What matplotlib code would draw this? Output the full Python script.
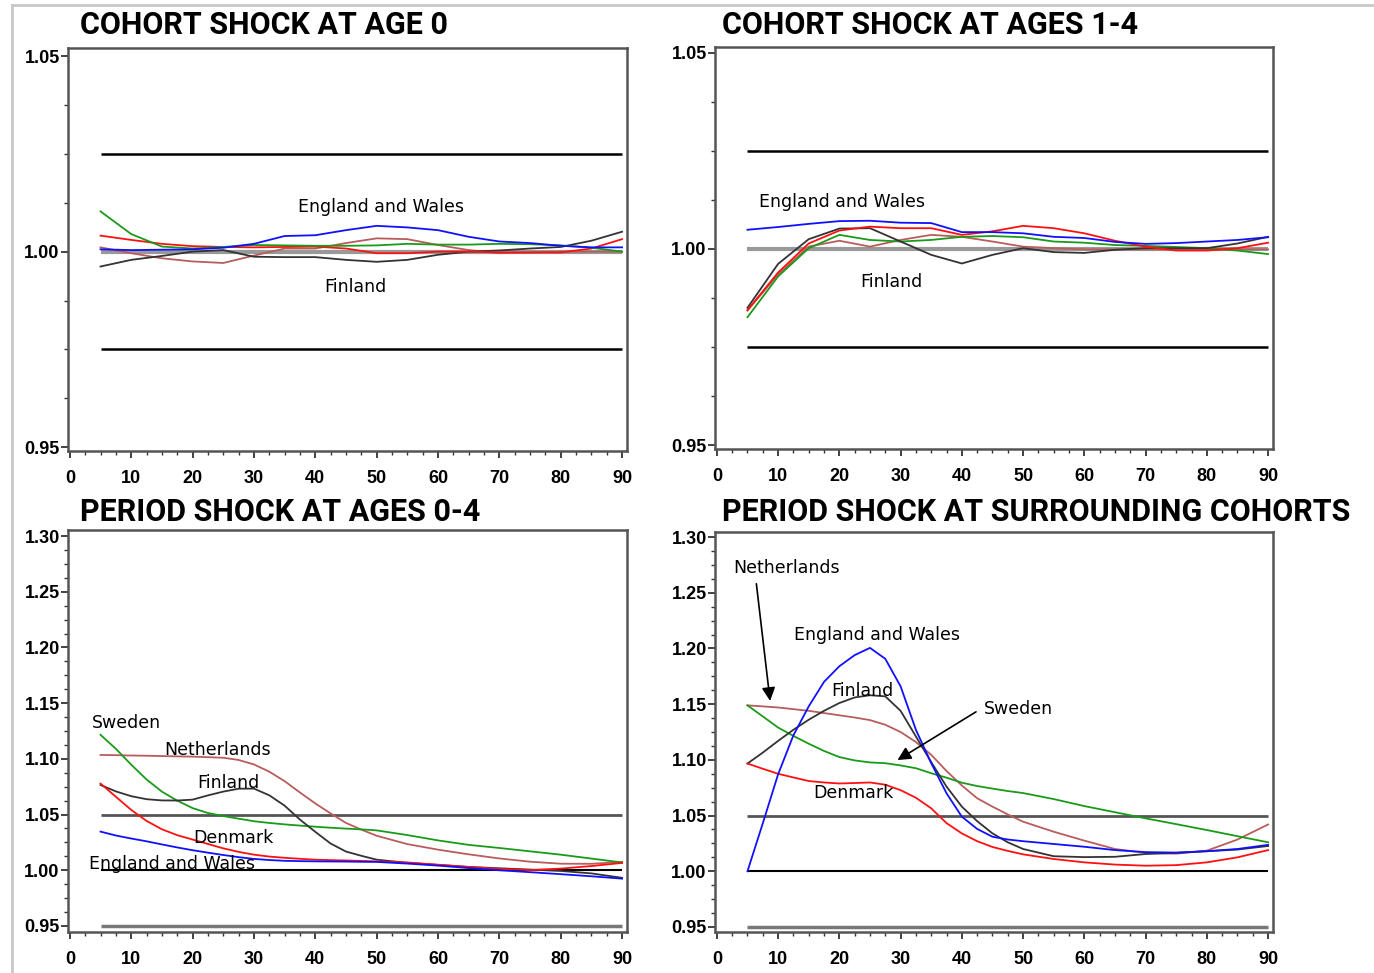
import matplotlib
matplotlib.use("Agg")
import matplotlib.pyplot as plt
from matplotlib.lines import Line2D
from matplotlib.ticker import MultipleLocator, AutoMinorLocator
from matplotlib import font_manager

# ages (x) for the cohort-shock panels
ages = [5, 10, 15, 20, 25, 30, 35, 40, 45, 50, 55, 60, 65, 70, 75, 80, 85, 90]
# finer ages for the period-shock panels
ages_p = [5, 7.5, 10, 12.5, 15, 17.5, 20, 22.5, 25, 27.5, 30, 32.5, 35, 37.5, 40, 42.5,
          45, 47.5, 50, 55, 60, 65, 70, 75, 80, 85, 90]

# ---- cohort shock at age 0 ----
tl_sweden = [1.0103, 1.0045, 1.0013, 1.0008, 1.0012, 1.0017, 1.0016, 1.0015, 1.0015,
             1.0016, 1.0020, 1.0018, 1.0018, 1.0020, 1.0019, 1.0016, 1.0010, 1.0000]
tl_england = [1.0006, 1.0004, 1.0005, 1.0006, 1.0010, 1.0020, 1.0040, 1.0042, 1.0055,
              1.0066, 1.0062, 1.0055, 1.0038, 1.0026, 1.0022, 1.0015, 1.0011, 1.0011]
tl_denmark = [1.0041, 1.0030, 1.0020, 1.0014, 1.0012, 1.0011, 1.0012, 1.0013, 1.0008,
              0.9996, 0.9996, 1.0000, 1.0000, 0.9998, 0.9998, 0.9998, 1.0008, 1.0032]
tl_netherlands = [1.0011, 0.9996, 0.9983, 0.9975, 0.9971, 0.9990, 1.0008, 1.0008, 1.0022,
                  1.0034, 1.0032, 1.0017, 1.0004, 0.9996, 0.9998, 1.0000, 1.0000, 1.0000]
tl_finland = [0.9962, 0.9979, 0.9989, 1.0000, 1.0004, 0.9987, 0.9986, 0.9986, 0.9979,
              0.9974, 0.9979, 0.9992, 1.0000, 1.0003, 1.0008, 1.0012, 1.0028, 1.0051]

# ---- cohort shock at ages 1-4 ----
tr_england = [1.0049, 1.0056, 1.0064, 1.0071, 1.0072, 1.0067, 1.0066, 1.0043, 1.0043,
              1.0040, 1.0031, 1.0028, 1.0018, 1.0013, 1.0015, 1.0019, 1.0023, 1.0030]
tr_denmark = [0.9844, 0.9940, 1.0014, 1.0047, 1.0057, 1.0053, 1.0053, 1.0036, 1.0045,
              1.0059, 1.0053, 1.0040, 1.0021, 1.0006, 0.9996, 0.9996, 1.0002, 1.0016]
tr_finland = [0.9850, 0.9962, 1.0025, 1.0052, 1.0053, 1.0019, 0.9985, 0.9963, 0.9985,
              1.0002, 0.9992, 0.9990, 0.9998, 1.0002, 1.0002, 1.0002, 1.0014, 1.0031]
tr_sweden = [0.9826, 0.9930, 1.0002, 1.0036, 1.0023, 1.0019, 1.0023, 1.0031, 1.0033,
             1.0030, 1.0019, 1.0016, 1.0010, 1.0008, 1.0005, 1.0002, 0.9996, 0.9987]
tr_netherlands = [0.9843, 0.9935, 1.0006, 1.0021, 1.0006, 1.0023, 1.0036, 1.0031, 1.0019,
                  1.0006, 1.0002, 0.9999, 0.9999, 0.9999, 0.9999, 0.9999, 0.9999, 0.9999]

# ---- period shock at ages 0-4 ----
bl_sweden = [1.1216, 1.1090, 1.0948, 1.0815, 1.0706, 1.0625, 1.0558, 1.0514, 1.0487,
             1.0463, 1.0440, 1.0425, 1.0412, 1.0401, 1.0391, 1.0382, 1.0374, 1.0367,
             1.0358, 1.0316, 1.0268, 1.0228, 1.0200, 1.0170, 1.0140, 1.0105, 1.0070]
bl_netherlands = [1.1035, 1.1033, 1.1030, 1.1028, 1.1025, 1.1022, 1.1020, 1.1015, 1.1010,
                  1.0990, 1.0950, 1.0885, 1.0800, 1.0698, 1.0600, 1.0510, 1.0425, 1.0365,
                  1.0310, 1.0235, 1.0185, 1.0143, 1.0106, 1.0077, 1.0059, 1.0058, 1.0075]
bl_finland = [1.0766, 1.0708, 1.0665, 1.0638, 1.0627, 1.0626, 1.0634, 1.0672, 1.0706,
              1.0732, 1.0733, 1.0673, 1.0580, 1.0455, 1.0345, 1.0240, 1.0168, 1.0130,
              1.0095, 1.0067, 1.0048, 1.0030, 1.0018, 1.0006, 0.9994, 0.9972, 0.9932]
bl_denmark = [1.0778, 1.0660, 1.0542, 1.0443, 1.0368, 1.0315, 1.0276, 1.0236, 1.0197,
              1.0165, 1.0140, 1.0123, 1.0112, 1.0103, 1.0095, 1.0091, 1.0088, 1.0084,
              1.0080, 1.0070, 1.0050, 1.0030, 1.0012, 1.0002, 1.0015, 1.0038, 1.0066]
bl_england = [1.0347, 1.0312, 1.0285, 1.0260, 1.0232, 1.0205, 1.0180, 1.0158, 1.0137,
              1.0118, 1.0102, 1.0092, 1.0085, 1.0082, 1.0080, 1.0079, 1.0078, 1.0076,
              1.0075, 1.0060, 1.0042, 1.0020, 1.0000, 0.9983, 0.9965, 0.9946, 0.9925]

# ---- period shock at surrounding cohorts ----
br_england = [1.0000, 1.0430, 1.0870, 1.1220, 1.1480, 1.1700, 1.1840, 1.1940, 1.2005,
              1.1907, 1.1660, 1.1270, 1.0970, 1.0700, 1.0490, 1.0380, 1.0310, 1.0285,
              1.0270, 1.0245, 1.0220, 1.0190, 1.0172, 1.0168, 1.0180, 1.0200, 1.0237]
br_finland = [1.0967, 1.1065, 1.1170, 1.1270, 1.1360, 1.1440, 1.1510, 1.1560, 1.1580,
              1.1570, 1.1440, 1.1210, 1.0980, 1.0760, 1.0580, 1.0450, 1.0340, 1.0260,
              1.0200, 1.0135, 1.0127, 1.0130, 1.0155, 1.0165, 1.0180, 1.0195, 1.0227]
br_netherlands = [1.1489, 1.1480, 1.1470, 1.1455, 1.1440, 1.1420, 1.1400, 1.1380, 1.1357,
                  1.1315, 1.1250, 1.1160, 1.1045, 1.0900, 1.0770, 1.0655, 1.0580, 1.0510,
                  1.0445, 1.0355, 1.0275, 1.0200, 1.0165, 1.0158, 1.0185, 1.0285, 1.0420]
br_sweden = [1.1489, 1.1390, 1.1290, 1.1215, 1.1145, 1.1080, 1.1025, 1.0995, 1.0977,
             1.0970, 1.0950, 1.0925, 1.0880, 1.0840, 1.0795, 1.0765, 1.0742, 1.0720,
             1.0702, 1.0648, 1.0585, 1.0530, 1.0475, 1.0423, 1.0370, 1.0315, 1.0260]
br_denmark = [1.0967, 1.0920, 1.0875, 1.0842, 1.0810, 1.0797, 1.0788, 1.0792, 1.0797,
              1.0777, 1.0728, 1.0660, 1.0565, 1.0432, 1.0340, 1.0270, 1.0218, 1.0183,
              1.0152, 1.0110, 1.0080, 1.0060, 1.0050, 1.0055, 1.0080, 1.0125, 1.0190]

colors = {"Sweden": "#1a9a1a", "Netherlands": "#b85c5c", "Finland": "#333333",
          "Denmark": "#ff1010", "England and Wales": "#1010ff"}

titles = ["COHORT SHOCK AT AGE 0", "COHORT SHOCK AT AGES 1-4",
          "PERIOD SHOCK AT AGES 0-4", "PERIOD SHOCK AT SURROUNDING COHORTS"]


def pick_font(names, default="DejaVu Sans"):
    avail = {f.name for f in font_manager.fontManager.ttflist}
    for n in names:
        if n in avail:
            return n
    return default


title_font = pick_font(["Roboto", "DejaVu Sans"])
tick_font = pick_font(["Liberation Sans", "DejaVu Sans"])

fig = plt.figure(figsize=(13.74, 9.73), dpi=100)
W, H = 1374.0, 973.0


def make_ax(left, top, right, bottom):
    return fig.add_axes([left / W, (H - bottom) / H, (right - left) / W, (bottom - top) / H])


def style(ax, ylim, ymajor):
    ax.set_xlim(-0.3, 90.8)
    ax.set_ylim(*ylim)
    ax.xaxis.set_major_locator(MultipleLocator(10))
    ax.xaxis.set_minor_locator(AutoMinorLocator(4))
    ax.yaxis.set_major_locator(MultipleLocator(ymajor))
    ax.yaxis.set_minor_locator(AutoMinorLocator(4))
    for s in ax.spines.values():
        s.set_color("#555555")
        s.set_linewidth(1.8)
    ax.tick_params(which="major", length=5, width=1.3, color="#333333")
    ax.tick_params(which="minor", length=3, width=1.0, color="#333333")
    ax.tick_params(axis="x", pad=9)
    ax.tick_params(axis="y", pad=1)
    for lab in ax.get_xticklabels() + ax.get_yticklabels():
        lab.set_fontfamily(tick_font)
        lab.set_fontweight("bold")
        lab.set_fontsize(13)
    ax.yaxis.set_major_formatter(plt.FuncFormatter(lambda v, p: "%.2f" % v))


def note(ax, x, y, s):
    ax.text(x, y, s, ha="center", va="center", fontsize=12.5, family="DejaVu Sans", zorder=5)


# top-left
ax1 = make_ax(68, 48, 627, 451)
ax1.hlines([1.025, 0.975], 5, 90, color="black", lw=1.8, zorder=1)
ax1.hlines(1.0, 5, 90, color="#999999", lw=3, zorder=1)
for name, vals in [("Netherlands", tl_netherlands), ("Finland", tl_finland),
                   ("Denmark", tl_denmark), ("Sweden", tl_sweden),
                   ("England and Wales", tl_england)]:
    ax1.plot(ages, vals, color=colors[name], lw=1.3, zorder=3)
style(ax1, (0.949, 1.0521), 0.05)
note(ax1, 50.7, 1.0113, "England and Wales")
note(ax1, 46.6, 0.991, "Finland")

# top-right
ax2 = make_ax(715, 47, 1273, 449)
ax2.hlines([1.025, 0.975], 5, 90, color="black", lw=1.8, zorder=1)
ax2.hlines(1.0, 5, 90, color="#999999", lw=3, zorder=1)
for name, vals in [("Netherlands", tr_netherlands), ("Sweden", tr_sweden),
                   ("Finland", tr_finland), ("Denmark", tr_denmark),
                   ("England and Wales", tr_england)]:
    ax2.plot(ages, vals, color=colors[name], lw=1.3, zorder=3)
style(ax2, (0.949, 1.0515), 0.05)
note(ax2, 20.4, 1.012, "England and Wales")
note(ax2, 28.5, 0.9916, "Finland")

# bottom-left
ax3 = make_ax(68, 530, 627, 932)
ax3.hlines(1.05, 5, 90, color="#555555", lw=2, zorder=1)
ax3.hlines(1.00, 5, 90, color="black", lw=1.5, zorder=1)
ax3.hlines(0.95, 5, 90, color="#777777", lw=2.5, zorder=1)
for name, vals in [("Netherlands", bl_netherlands), ("Sweden", bl_sweden),
                   ("Finland", bl_finland), ("Denmark", bl_denmark),
                   ("England and Wales", bl_england)]:
    ax3.plot(ages_p, vals, color=colors[name], lw=1.3, zorder=3)
style(ax3, (0.9446, 1.3054), 0.05)
note(ax3, 9.3, 1.132, "Sweden")
note(ax3, 24.0, 1.108, "Netherlands")
note(ax3, 25.8, 1.0786, "Finland")
note(ax3, 26.7, 1.0291, "Denmark")
note(ax3, 16.6, 1.0057, "England and Wales")

# bottom-right
ax4 = make_ax(715, 532, 1273, 932)
ax4.hlines(1.05, 5, 90, color="#555555", lw=2, zorder=1)
ax4.hlines(1.00, 5, 90, color="black", lw=1.5, zorder=1)
ax4.hlines(0.95, 5, 90, color="#777777", lw=2.5, zorder=1)
for name, vals in [("Netherlands", br_netherlands), ("Sweden", br_sweden),
                   ("Finland", br_finland), ("Denmark", br_denmark),
                   ("England and Wales", br_england)]:
    ax4.plot(ages_p, vals, color=colors[name], lw=1.3, zorder=3)
style(ax4, (0.9455, 1.3045), 0.05)
note(ax4, 11.4, 1.272, "Netherlands")
note(ax4, 26.1, 1.212, "England and Wales")
note(ax4, 23.8, 1.162, "Finland")
note(ax4, 49.2, 1.146, "Sweden")
note(ax4, 22.3, 1.0707, "Denmark")
ax4.annotate("", xy=(8.75, 1.1504), xytext=(6.4, 1.2605),
             arrowprops=dict(arrowstyle="-|>", color="black", lw=1.2, mutation_scale=20))
ax4.annotate("", xy=(29.1, 1.0985), xytext=(42.7, 1.1444),
             arrowprops=dict(arrowstyle="-|>", color="black", lw=1.2, mutation_scale=20))

# titles
for (x, y), t in zip([(80, 25), (722, 25), (80, 512), (722, 512)], titles):
    fig.text(x / W, (H - y) / H, t, ha="left", va="center", fontsize=22,
             fontweight="bold", family=title_font)

# light outer frame
fig.add_artist(Line2D([12 / W, 12 / W], [0, (H - 5) / H], color="#c8c8c8", lw=2))
fig.add_artist(Line2D([12 / W, 1], [(H - 5) / H, (H - 5) / H], color="#c8c8c8", lw=2))

fig.savefig("out.png", dpi=100)
